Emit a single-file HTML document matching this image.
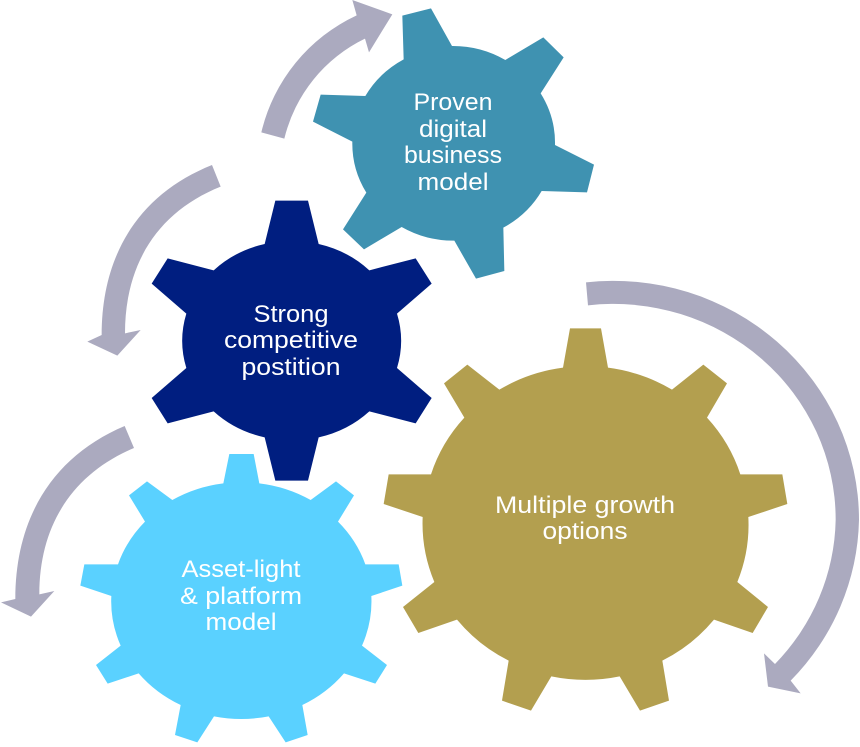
<!DOCTYPE html>
<html><head><meta charset="utf-8"><style>
html,body{margin:0;padding:0;background:#fff}
svg{display:block}
text{font-family:"Liberation Sans",sans-serif;font-size:24px;fill:#fff;text-anchor:middle}
</style></head><body>
<svg width="860" height="747" viewBox="0 0 860 747" xmlns="http://www.w3.org/2000/svg">
<!-- arrows -->
<path fill="#ABAABF" transform="translate(240,0) scale(.33333)" d="M64 397A520 520 0 0 1 350 46L337 0L457 43L387 157L375 116A450 450 0 0 0 133 416Z"/>
<path fill="#ABAABF" transform="translate(80,160) scale(.33333)" d="M396 15C181 101 65 279 65 525L22 545L112 587L182 510L135 520C135 309 235 155 422 80Z"/>
<path fill="#ABAABF" transform="translate(0,420) scale(.33333)" d="M374 18C161 108 46 290 46 537L3 547L93 590L163 513L118 523C118 316 217 162 402 84Z"/>
<path fill="#ABAABF" transform="translate(380,270) scale(.33333)" d="M618 37A737 717 0 0 1 1437 750A737 717 0 0 1 1232 1232L1262 1270L1164 1250L1152 1150L1185 1182A667 647 0 0 0 1367 750A667 647 0 0 0 624 106Z"/>
<!-- Proven gear -->
<path fill="#3F92B1" transform="translate(240,0) scale(.33333)" d="M491 178L487 47L573 25L636 138A304 290 0 0 1 796 180L910 112L971 172L902 280A304 290 0 0 1 945 435L1062 494L1041 577L905 573A304 290 0 0 1 790 683L793 813L708 836L643 722A304 290 0 0 1 485 681L372 748L309 688L379 578A304 290 0 0 1 337 425L219 365L242 284L376 288A304 290 0 0 1 491 178Z"/>
<!-- Strong gear -->
<path fill="#001E80" transform="translate(80,160) scale(.33333)" d="M554 252L586 122L684 122L716 252A326 300 0 0 1 868 331L1007 295L1055 371L951 461A326 300 0 0 1 951 624L1055 714L1007 790L868 754A326 300 0 0 1 716 832L684 962L586 962L554 832A326 300 0 0 1 401 754L263 790L215 714L319 624A326 300 0 0 1 319 461L215 371L263 295L401 331A326 300 0 0 1 554 252Z"/>
<!-- Asset gear -->
<path fill="#5AD1FF" transform="translate(0,420) scale(.33333)" d="M670 190L688 102L761 102L778 190A390 355 0 0 1 932 240L1008 184L1062 226L1014 305A390 355 0 0 1 1096 433L1196 433L1207 497L1114 528A390 355 0 0 1 1086 677L1161 735L1126 791L1032 760A390 355 0 0 1 907 855L923 945L857 967L806 889A390 355 0 0 1 642 889L592 967L525 945L542 855A390 355 0 0 1 416 760L323 791L288 735L362 677A390 355 0 0 1 334 528L241 497L253 433L354 433A390 355 0 0 1 435 305L387 226L441 184L517 240A390 355 0 0 1 670 190Z"/>
<!-- Multiple gear -->
<path fill="#B39F4F" transform="translate(380,270) scale(.33333)" d="M549 293L570 175L663 175L684 293A489 470 0 0 1 876 359L970 284L1041 340L981 443A489 470 0 0 1 1081 613L1207 613L1222 702L1105 741A489 470 0 0 1 1072 936L1164 1011L1118 1089L1002 1049A489 470 0 0 1 847 1172L867 1292L780 1322L719 1219A489 470 0 0 1 514 1219L453 1322L366 1292L386 1172A489 470 0 0 1 231 1049L115 1089L69 1011L163 936A489 470 0 0 1 128 741L11 702L26 613L153 613A489 470 0 0 1 253 443L192 340L262 284L358 359A489 470 0 0 1 549 293Z"/>
<!-- labels -->
<text x="453" y="110" textLength="79" lengthAdjust="spacingAndGlyphs">Proven</text>
<text x="453" y="137" textLength="68" lengthAdjust="spacingAndGlyphs">digital</text>
<text x="453" y="163" textLength="98" lengthAdjust="spacingAndGlyphs">business</text>
<text x="453" y="190" textLength="71" lengthAdjust="spacingAndGlyphs">model</text>
<text x="291" y="322" textLength="75" lengthAdjust="spacingAndGlyphs">Strong</text>
<text x="291" y="348" textLength="134" lengthAdjust="spacingAndGlyphs">competitive</text>
<text x="291" y="375" textLength="99" lengthAdjust="spacingAndGlyphs">postition</text>
<text x="241" y="577" textLength="119" lengthAdjust="spacingAndGlyphs">Asset-light</text>
<text x="241" y="604" textLength="122" lengthAdjust="spacingAndGlyphs">&amp; platform</text>
<text x="241" y="630" textLength="71" lengthAdjust="spacingAndGlyphs">model</text>
<text x="585" y="513" textLength="180" lengthAdjust="spacingAndGlyphs">Multiple growth</text>
<text x="585" y="539" textLength="85" lengthAdjust="spacingAndGlyphs">options</text>
</svg>
</body></html>
